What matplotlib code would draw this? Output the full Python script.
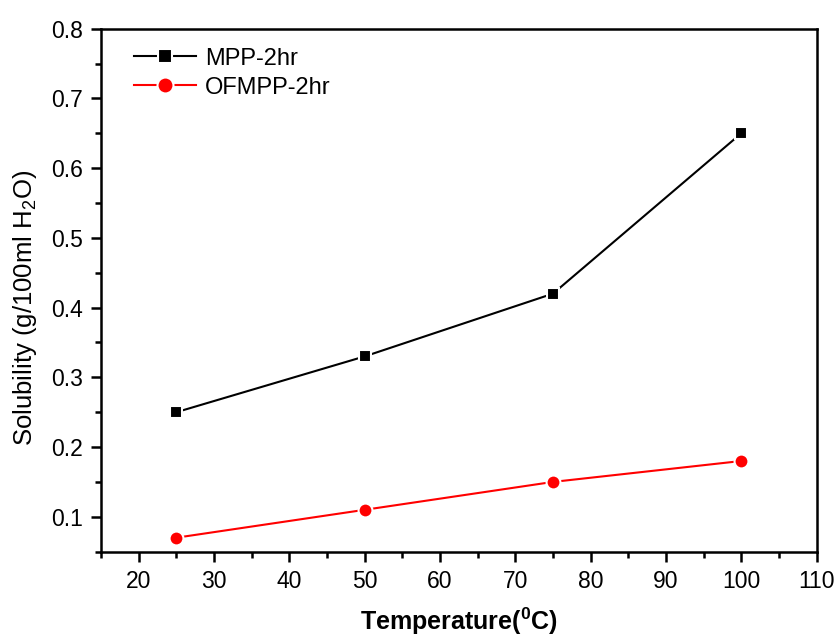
import matplotlib
matplotlib.use('Agg')
import matplotlib.pyplot as plt
from matplotlib.ticker import MultipleLocator

plt.rcParams['font.family'] = ['Liberation Sans', 'DejaVu Sans']
plt.rcParams['mathtext.fontset'] = 'custom'
plt.rcParams['mathtext.rm'] = 'Liberation Sans'
plt.rcParams['mathtext.bf'] = 'Liberation Sans:bold'

# %% Data
temperature = [25, 50, 75, 100]
mpp_2hr     = [0.25, 0.33, 0.42, 0.65]
ofmpp_2hr   = [0.07, 0.11, 0.15, 0.18]

# %% Plot
fig = plt.figure(figsize=(8.35, 6.37), dpi=100)
ax = fig.add_axes([0.121, 0.134, 0.857, 0.821])

ax.plot(temperature, mpp_2hr, '-s', color='black', linewidth=1.5,
        markersize=9, markeredgecolor='white', markeredgewidth=1.5,
        label='MPP-2hr')
ax.plot(temperature, ofmpp_2hr, '-o', color='red', linewidth=1.5,
        markersize=10, markeredgecolor='white', markeredgewidth=1.5,
        label='OFMPP-2hr')

ax.set_xlim(15, 110)
ax.set_ylim(0.05, 0.8)
ax.xaxis.set_major_locator(MultipleLocator(10))
ax.xaxis.set_minor_locator(MultipleLocator(5))
ax.yaxis.set_minor_locator(MultipleLocator(0.05))
ax.set_yticks([0.1, 0.2, 0.3, 0.4, 0.5, 0.6, 0.7, 0.8])
ax.tick_params(which='major', direction='out', length=7, width=1.8,
               labelsize=16.5, pad=6)
ax.tick_params(which='minor', direction='out', length=4, width=1.8)
for s in ax.spines.values():
    s.set_linewidth(1.8)

ax.set_xlabel(r'Temperature($^\mathbf{0}$C)', fontsize=18, fontweight='bold',
              labelpad=9)
ax.set_ylabel(r'Solubility (g/100ml H$_2$O)', fontsize=18.5)
ax.yaxis.set_label_coords(-0.086, 0.466)

ax.legend(loc='upper left', frameon=False, fontsize=17, handlelength=2.6,
          handletextpad=0.4, labelspacing=0.3, borderaxespad=0.4,
          markerscale=1.15, bbox_to_anchor=(0.02, 1.0))

fig.savefig('out.png', dpi=100)
